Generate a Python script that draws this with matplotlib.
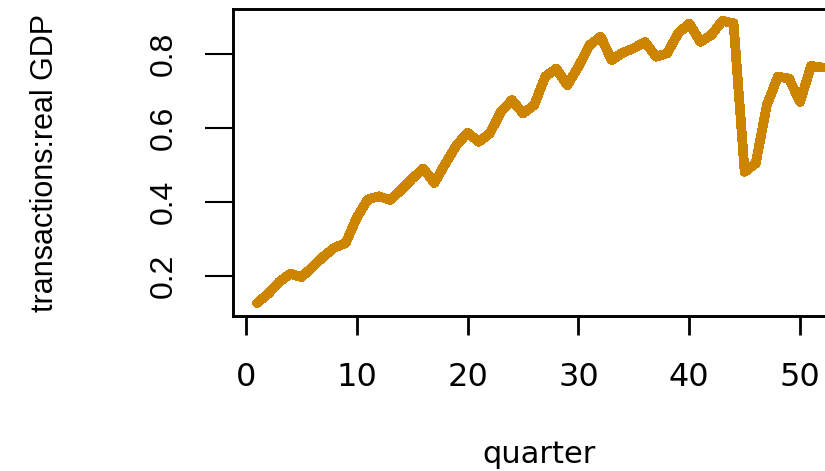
import matplotlib
matplotlib.use("Agg")
import matplotlib.pyplot as plt

# transactions to real GDP ratio by quarter
quarter = list(range(1, 53))
ratio = [0.127, 0.152, 0.184, 0.206, 0.197, 0.224, 0.253, 0.277, 0.289, 0.358,
         0.407, 0.415, 0.405, 0.432, 0.463, 0.490, 0.451, 0.504, 0.553, 0.587,
         0.562, 0.585, 0.643, 0.675, 0.639, 0.661, 0.738, 0.760, 0.715, 0.765,
         0.823, 0.846, 0.783, 0.803, 0.815, 0.832, 0.792, 0.801, 0.855, 0.882,
         0.832, 0.851, 0.889, 0.882, 0.481, 0.504, 0.661, 0.738, 0.733, 0.670,
         0.767, 0.763]

xticks = [0, 10, 20, 30, 40, 50]
yticks = [0.2, 0.4, 0.6, 0.8]
ytick_labels = ["0.2", "0.4", "0.6", "0.8"]

fig = plt.figure(figsize=(8.25, 4.71), dpi=100)
# plot region runs a little past the right edge of the image
ax = fig.add_axes([233.3 / 825, 1 - 316.3 / 471, 611.5 / 825, 307.3 / 471])

ax.plot(quarter, ratio, color="#CD8500", lw=6.3, antialiased=False,
        solid_capstyle="round", solid_joinstyle="round")

ax.set_xlim(-1.15, 54.04)
ax.set_ylim(0.0911, 0.9208)

for s in ax.spines.values():
    s.set_linewidth(2.1)
    s.set_color("black")

ax.set_xticks(xticks)
ax.set_xticklabels([str(t) for t in xticks], fontfamily="DejaVu Sans")
ax.set_yticks(yticks)
ax.set_yticklabels(ytick_labels, rotation=90, va="center",
                   fontfamily="Liberation Sans")
ax.tick_params(axis="x", length=13.7, width=2.0, pad=19, labelsize=23)
ax.tick_params(axis="y", length=20, width=1.5, pad=19.3, labelsize=23)

ax.set_xlabel("quarter", fontsize=22, fontfamily="DejaVu Sans")
ax.xaxis.set_label_coords(0.5, -0.401)
ax.set_ylabel("transactions:real GDP", fontsize=22, fontfamily="Liberation Sans")
ax.yaxis.set_label_coords(-0.284, 0.5)

fig.savefig("out.png", dpi=100)
